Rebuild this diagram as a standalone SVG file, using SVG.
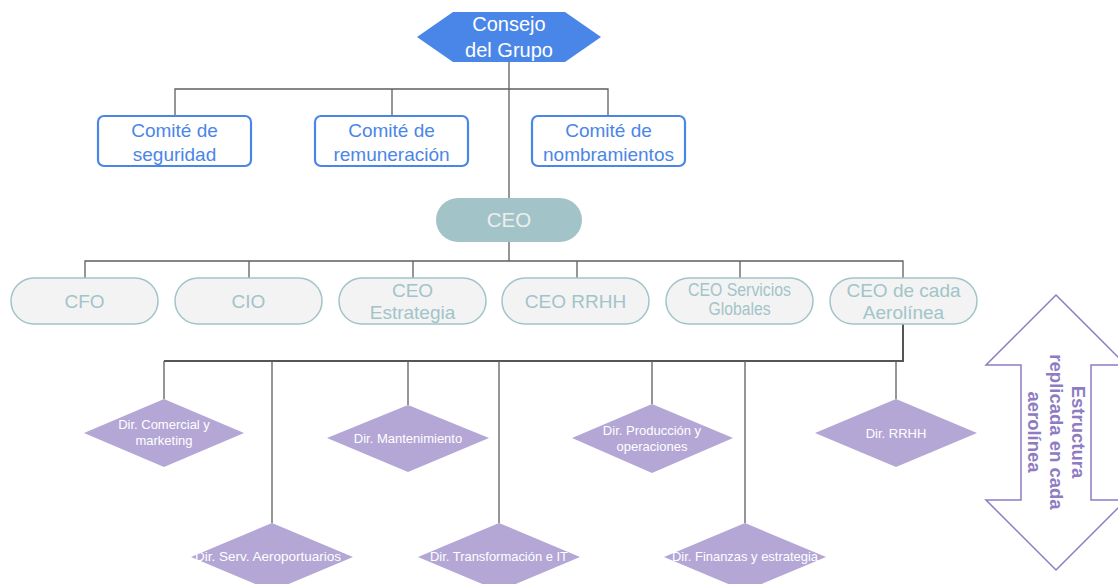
<svg xmlns="http://www.w3.org/2000/svg" width="1118" height="584" viewBox="0 0 1118 584">
<style>
text{font-family:"Liberation Sans",Arial,sans-serif;text-anchor:middle}
.con{fill:none;stroke:#5f5f5f;stroke-width:1.3}
.conb{fill:none;stroke:#555;stroke-width:2}
.com{fill:#fff;stroke:#4a86e8;stroke-width:2.2}
.comt{fill:#4a86e8;font-size:19px}
.pill{fill:#f3f3f3;stroke:#a2c4c9;stroke-width:1.5}
.pillt{fill:#a2c4c9;font-size:19px}
.dia{fill:#b4a7d6}
.diat{fill:#fff;font-size:13px}
</style>
<rect width="1118" height="584" fill="#fff"/>
<g id="connectors">
<path class="con" d="M509 62V198M175 116V89H608V116M392 89V116"/>
<path class="con" d="M509 242V261M85 278V261H903V278M249 261V278M413 261V278M577 261V278M740 261V278"/>
<path class="conb" d="M903 324V361H164"/>
<path class="con" d="M164 361V399M272 361V523M408 361V405M499 361V523M652 361V404M745 361V523M896 361V399"/>
</g>
<g id="consejo">
<polygon points="417,37 453,12 565,12 601,37 565,62 453,62" fill="#4a86e8"/>
<text x="509" y="31" fill="#fff" font-size="20">Consejo</text>
<text x="509" y="57" fill="#fff" font-size="20">del Grupo</text>
</g>
<g id="comite-seguridad"><rect class="com" x="98" y="116" width="153" height="50" rx="6"/><text class="comt" x="174.5" y="137">Comité de</text><text class="comt" x="174.5" y="161">seguridad</text></g>
<g id="comite-remuneracion"><rect class="com" x="315" y="116" width="153" height="50" rx="6"/><text class="comt" x="391.5" y="137">Comité de</text><text class="comt" x="391.5" y="161">remuneración</text></g>
<g id="comite-nombramientos"><rect class="com" x="532" y="116" width="153" height="50" rx="6"/><text class="comt" x="608.5" y="137">Comité de</text><text class="comt" x="608.5" y="161">nombramientos</text></g>
<g id="ceo"><rect x="436" y="198" width="146" height="44" rx="22" fill="#a2c4c9"/><text x="509" y="227" fill="#eeeeee" font-size="20.5">CEO</text></g>
<g id="cfo"><rect class="pill" x="11" y="278" width="147" height="46" rx="23"/><text class="pillt" x="84.5" y="308">CFO</text></g>
<g id="cio"><rect class="pill" x="175" y="278" width="147" height="46" rx="23"/><text class="pillt" x="248.5" y="308">CIO</text></g>
<g id="ceo-estrategia"><rect class="pill" x="339" y="278" width="147" height="46" rx="23"/><text class="pillt" x="412.5" y="297">CEO</text><text class="pillt" x="412.5" y="319">Estrategia</text></g>
<g id="ceo-rrhh"><rect class="pill" x="502" y="278" width="147" height="46" rx="23"/><text class="pillt" x="575.5" y="308">CEO RRHH</text></g>
<g id="ceo-servicios"><rect class="pill" x="666" y="278" width="147" height="46" rx="23"/><text class="pillt" x="739.5" y="296" font-size="14.5" textLength="103" lengthAdjust="spacingAndGlyphs">CEO Servicios</text><text class="pillt" x="739.5" y="315" font-size="14.5" textLength="62" lengthAdjust="spacingAndGlyphs">Globales</text></g>
<g id="ceo-aerolinea"><rect class="pill" x="830" y="278" width="147" height="46" rx="23"/><text class="pillt" x="903.5" y="297">CEO de cada</text><text class="pillt" x="903.5" y="319">Aerolínea</text></g>
<g id="dir-comercial"><polygon class="dia" points="164,399 244,433 164,467 84,433"/><text class="diat" x="164" y="429">Dir. Comercial y</text><text class="diat" x="164" y="445">marketing</text></g>
<g id="dir-mantenimiento"><polygon class="dia" points="408,405 489,438 408,472 327,438"/><text class="diat" x="408" y="443">Dir. Mantenimiento</text></g>
<g id="dir-produccion"><polygon class="dia" points="652,404 733,438 652,473 572,438"/><text class="diat" x="652" y="435">Dir. Producción y</text><text class="diat" x="652" y="451">operaciones</text></g>
<g id="dir-rrhh"><polygon class="dia" points="896,399 977,433 896,467 815,433"/><text class="diat" x="896" y="438">Dir. RRHH</text></g>
<g id="dir-serv"><polygon class="dia" points="272,523 353,557 272,591 191,557"/><text class="diat" x="268" y="561" textLength="146" lengthAdjust="spacingAndGlyphs">Dir. Serv. Aeroportuarios</text></g>
<g id="dir-transformacion"><polygon class="dia" points="499,523 580,557 499,591 418,557"/><text class="diat" x="499" y="561" textLength="138" lengthAdjust="spacingAndGlyphs">Dir. Transformación e IT</text></g>
<g id="dir-finanzas"><polygon class="dia" points="745,523 826,557 745,591 664,557"/><text class="diat" x="745" y="561" textLength="146" lengthAdjust="spacingAndGlyphs">Dir. Finanzas y estrategia</text></g>
<g id="flecha">
<polygon points="1056,295 1126,365 1091,365 1091,500 1126,500 1056,570 986,500 1021,500 1021,365 986,365" fill="#fff" stroke="#8e7cc3" stroke-width="1.5"/>
<g transform="translate(1056,432) rotate(90)" fill="#8e7cc3" font-weight="bold" font-size="18.5">
<text x="0" y="-16">Estructura</text>
<text x="0" y="6">replicada en cada</text>
<text x="0" y="28">aerolínea</text>
</g>
</g>
</svg>
